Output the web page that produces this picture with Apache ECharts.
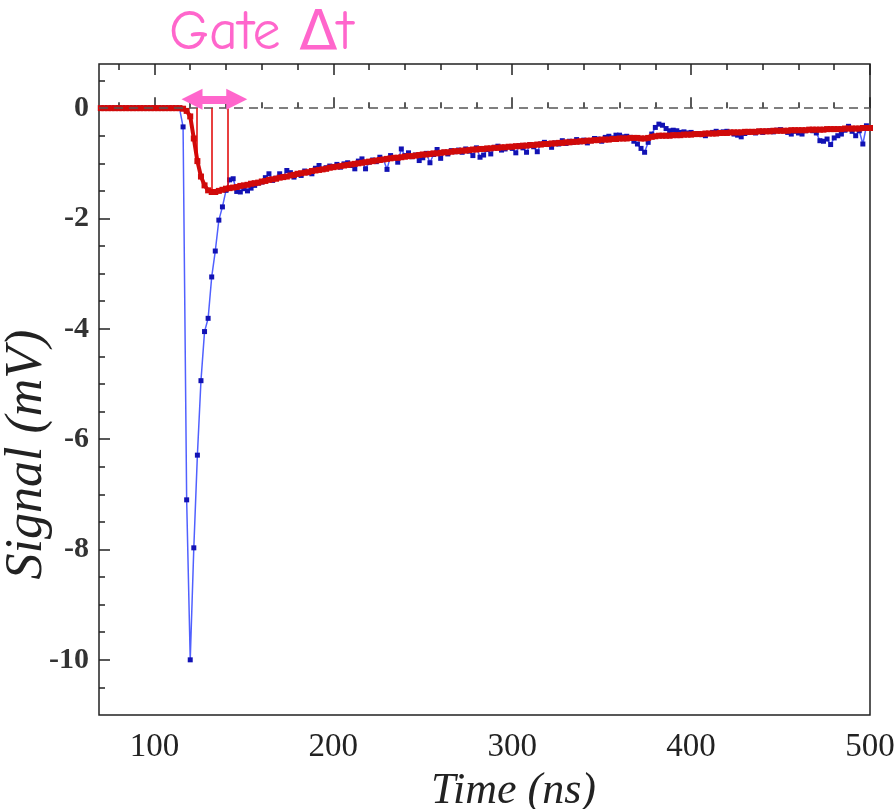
<!DOCTYPE html>
<html>
<head>
<meta charset="utf-8">
<script src="https://cdn.jsdelivr.net/npm/echarts@6/dist/echarts.min.js"></script>
<style>
  html, body { margin: 0; padding: 0; background: #fff; }
  #chart { width: 895px; height: 809px; }
</style>
</head>
<body>
<div id="chart"></div>
<script>
// ---- data (time grid: samples every 2 ns starting at 70 ns) ----
const sampleStart = 70;
const sampleStep = 2;

// measured signal (blue), mV
const signalValues = [
  0,0,0,0,0,0,0,0,0,0,
  0,0,0,0,0,0,0,0,0,0,
  0,0,0,-0.34,-7.10,-10.00,-7.97,-6.29,-4.94,-4.05,
  -3.81,-3.06,-2.59,-2.03,-1.79,-1.49,-1.30,-1.28,-1.51,-1.52,
  -1.46,-1.50,-1.45,-1.40,-1.36,-1.34,-1.26,-1.19,-1.31,-1.27,
  -1.19,-1.24,-1.13,-1.17,-1.25,-1.20,-1.22,-1.14,-1.17,-1.19,
  -1.09,-1.04,-1.11,-1.08,-1.05,-1.06,-1.02,-1.07,-1.01,-0.99,
  -1.04,-1.10,-0.96,-0.92,-1.10,-0.98,-0.94,-0.97,-0.89,-0.93,
  -1.11,-0.86,-0.90,-0.98,-0.74,-0.86,-0.81,-0.88,-0.85,-0.95,
  -0.90,-0.82,-0.99,-0.84,-0.75,-0.91,-0.80,-0.83,-0.77,-0.79,
  -0.76,-0.80,-0.74,-0.78,-0.86,-0.72,-0.89,-0.85,-0.75,-0.83,
  -0.71,-0.69,-0.76,-0.74,-0.70,-0.73,-0.81,-0.68,-0.72,-0.80,
  -0.66,-0.70,-0.79,-0.65,-0.62,-0.66,-0.71,-0.63,-0.65,-0.59,
  -0.64,-0.60,-0.62,-0.57,-0.61,-0.58,-0.63,-0.59,-0.55,-0.56,
  -0.60,-0.53,-0.51,-0.54,-0.49,-0.49,-0.52,-0.51,-0.53,-0.60,
  -0.65,-0.73,-0.80,-0.62,-0.47,-0.35,-0.29,-0.31,-0.37,-0.41,
  -0.40,-0.41,-0.44,-0.43,-0.45,-0.44,-0.47,-0.46,-0.48,-0.50,
  -0.46,-0.44,-0.42,-0.44,-0.43,-0.42,-0.44,-0.47,-0.49,-0.52,
  -0.46,-0.44,-0.43,-0.45,-0.42,-0.44,-0.42,-0.41,-0.43,-0.40,
  -0.39,-0.41,-0.44,-0.47,-0.42,-0.45,-0.47,-0.41,-0.39,-0.41,
  -0.45,-0.59,-0.60,-0.56,-0.66,-0.54,-0.50,-0.47,-0.40,-0.33,
  -0.42,-0.50,-0.41,-0.65,-0.32,-0.36
];

// averaged / shaped signal (red), mV
const averageValues = [
  0,0,0,0,0,0,0,0,0,0,
  0,0,0,0,0,0,0,0,0,0,
  0,0,0,-0.01,-0.05,-0.15,-0.55,-0.96,-1.24,-1.40,
  -1.49,-1.52,-1.52,-1.50,-1.48,-1.46,-1.45,-1.44,-1.43,-1.41,
  -1.40,-1.39,-1.37,-1.36,-1.35,-1.33,-1.32,-1.30,-1.29,-1.28,
  -1.26,-1.25,-1.24,-1.22,-1.21,-1.19,-1.18,-1.17,-1.16,-1.14,
  -1.13,-1.12,-1.11,-1.10,-1.08,-1.07,-1.06,-1.05,-1.04,-1.03,
  -1.02,-1.01,-1.00,-0.99,-0.98,-0.97,-0.96,-0.95,-0.94,-0.93,
  -0.92,-0.91,-0.90,-0.90,-0.89,-0.88,-0.87,-0.87,-0.86,-0.85,
  -0.84,-0.84,-0.83,-0.82,-0.82,-0.81,-0.80,-0.80,-0.79,-0.78,
  -0.78,-0.77,-0.77,-0.76,-0.75,-0.75,-0.74,-0.74,-0.73,-0.73,
  -0.72,-0.72,-0.71,-0.71,-0.70,-0.70,-0.69,-0.69,-0.68,-0.68,
  -0.67,-0.67,-0.66,-0.66,-0.65,-0.65,-0.64,-0.64,-0.63,-0.63,
  -0.62,-0.62,-0.61,-0.61,-0.60,-0.60,-0.59,-0.59,-0.58,-0.58,
  -0.57,-0.57,-0.57,-0.56,-0.56,-0.55,-0.55,-0.55,-0.54,-0.54,
  -0.54,-0.55,-0.55,-0.54,-0.52,-0.51,-0.50,-0.50,-0.50,-0.50,
  -0.49,-0.49,-0.49,-0.48,-0.48,-0.48,-0.47,-0.47,-0.47,-0.46,
  -0.46,-0.46,-0.46,-0.45,-0.45,-0.45,-0.44,-0.44,-0.44,-0.44,
  -0.43,-0.43,-0.43,-0.43,-0.42,-0.42,-0.42,-0.42,-0.41,-0.41,
  -0.41,-0.41,-0.41,-0.40,-0.40,-0.40,-0.40,-0.40,-0.39,-0.39,
  -0.39,-0.39,-0.39,-0.38,-0.38,-0.38,-0.38,-0.38,-0.37,-0.37,
  -0.37,-0.37,-0.37,-0.36,-0.36,-0.36
];

// gate markers: times (ns) and depth reached on the red curve (mV)
const gateTimes = [123.7, 132.2, 141.2];
const gateDepths = [-0.93, -1.50, -1.49];
// gate double arrow: [start ns, end ns, level mV]
const gateArrow = [121, 146, 0.16];
const gateLabel = 'Gate \u0394t';

// axes
const xRange = [69, 500];
const yRange = [-11, 0.8];
const xMajorTicks = [100, 200, 300, 400, 500];
const xMinorTicks = [80, 120, 140, 160, 180, 220, 240, 260, 280, 320, 340, 360, 380, 420, 440, 460, 480];
const yMajorTicks = [-10, -8, -6, -4, -2, 0];
const yMinorTicks = [-10.5, -9.5, -9, -8.5, -7.5, -7, -6.5, -5.5, -5, -4.5, -3.5, -3, -2.5, -1.5, -1, -0.5, 0.5];

// ---- build ----
const signalData = signalValues.map((v, i) => [sampleStart + i * sampleStep, v]);
const averageData = averageValues.map((v, i) => [sampleStart + i * sampleStep, v]);

const serif = 'Liberation Serif, Times New Roman, serif';
const inkColor = '#222';

function xAxisDef(position, ticks, len, withLabels) {
  const ax = {
    type: 'value', min: xRange[0], max: xRange[1], position: position,
    axisLine: { show: false }, splitLine: { show: false },
    axisTick: { show: true, inside: true, length: len, customValues: ticks, lineStyle: { color: inkColor, width: 1.5 } },
    axisLabel: { show: withLabels, customValues: ticks, fontFamily: serif, fontSize: 33, color: inkColor, margin: 16 }
  };
  if (withLabels) {
    ax.name = 'Time (ns)';
    ax.nameLocation = 'middle';
    ax.nameGap = 54;
    ax.nameMoveOverlap = false;
    ax.nameTextStyle = { fontFamily: serif, fontStyle: 'italic', fontSize: 44, color: inkColor, padding: [0, 0, 0, 58] };
  }
  return ax;
}
function yAxisDef(ticks, len, withLabels) {
  const ax = {
    type: 'value', min: yRange[0], max: yRange[1], position: 'left',
    axisLine: { show: false }, splitLine: { show: false },
    axisTick: { show: true, inside: true, length: len, customValues: ticks, lineStyle: { color: inkColor, width: 1.5 } },
    axisLabel: { show: withLabels, customValues: ticks, fontFamily: serif, fontSize: 30, fontWeight: 'bold', color: '#333', margin: 10,
      formatter: v => String(v) }
  };
  if (withLabels) {
    ax.name = 'Signal (mV)';
    ax.nameLocation = 'middle';
    ax.nameGap = 46;
    ax.nameRotate = 90;
    ax.nameMoveOverlap = false;
    ax.nameTextStyle = { fontFamily: serif, fontStyle: 'italic', fontSize: 52, color: inkColor, padding: [0, 130, 0, 0] };
  }
  return ax;
}

const gateLineData = gateTimes.map((t, i) => [
  { coord: [t, 0], symbol: 'none' },
  { coord: [t, gateDepths[i]], symbol: 'none' }
]);
const arrowData = [[
  { coord: [gateArrow[0], gateArrow[2]], symbol: 'triangle', symbolSize: 21,
    lineStyle: { color: '#ff66cc', width: 8, type: 'solid' } },
  { coord: [gateArrow[1], gateArrow[2]], symbol: 'triangle', symbolSize: 21 }
]];

const option = {
  animation: false,
  backgroundColor: '#fff',
  title: {
    text: gateLabel, left: 164, top: 0,
    textStyle: { fontFamily: 'Comic Sans MS, Comic Neue, DejaVu Sans, sans-serif', fontSize: 56, fontWeight: 'normal', color: '#ff66cc' }
  },
  grid: { left: 99, right: 25, top: 64, bottom: 94, show: true, borderColor: inkColor, borderWidth: 1.5,
    containLabel: false, outerBoundsMode: 'none' },
  xAxis: [
    xAxisDef('bottom', xMajorTicks, 11, true),
    xAxisDef('bottom', xMinorTicks, 6, false),
    xAxisDef('top', xMajorTicks, 11, false),
    xAxisDef('top', xMinorTicks, 6, false)
  ],
  yAxis: [
    yAxisDef(yMajorTicks, 11, true),
    yAxisDef(yMinorTicks, 6, false)
  ],
  series: [
    {
      name: 'signal', type: 'line', xAxisIndex: 0, yAxisIndex: 0, z: 2,
      data: signalData, symbol: 'rect', symbolSize: 5, showAllSymbol: true,
      itemStyle: { color: '#1212b4' },
      lineStyle: { color: '#5060ff', width: 1.5 },
      markLine: {
        silent: true, symbol: 'none', label: { show: false },
        lineStyle: { color: '#555', width: 1.5, type: [9, 6] },
        data: [{ yAxis: 0 }]
      }
    },
    {
      name: 'average', type: 'line', xAxisIndex: 0, yAxisIndex: 0, z: 3,
      data: averageData, symbol: 'rect', symbolSize: 6, showAllSymbol: true,
      itemStyle: { color: '#d00a0a' },
      lineStyle: { color: '#d00a0a', width: 4 },
      markLine: {
        silent: true, symbol: 'none', label: { show: false },
        lineStyle: { color: '#e00000', width: 1.5, type: 'solid' },
        data: gateLineData.concat(arrowData)
      }
    }
  ]
};

const chart = echarts.init(document.getElementById('chart'), null, { renderer: 'canvas' });
chart.setOption(option);
</script>
</body>
</html>
